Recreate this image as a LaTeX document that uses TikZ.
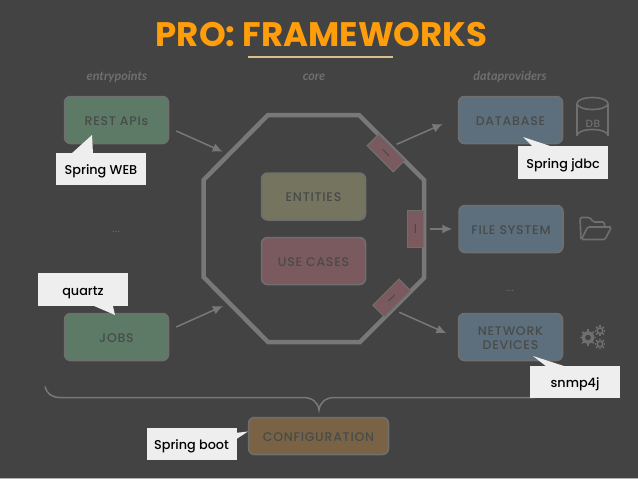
\documentclass[tikz,border=0pt]{standalone}
\usepackage{fontspec}
\setmainfont{Poppins}
\newfontfamily\boxfont[LetterSpace=6]{Poppins Medium}
\newfontfamily\notefont{Poppins Medium}
\newfontfamily\handfont{Lato}
\usetikzlibrary{arrows.meta}

\definecolor{slidebg}{HTML}{434343}
\definecolor{rimgray}{HTML}{6F6F6F}
\definecolor{linegray}{HTML}{787878}
\definecolor{boxtext}{HTML}{474B4A}
\definecolor{notefill}{HTML}{EEEEEE}
\definecolor{titleorange}{HTML}{FF9E0A}
\definecolor{rulesand}{HTML}{D8C08E}
\definecolor{entrygreen}{HTML}{5D7A66}
\definecolor{storeblue}{HTML}{5D6F7C}
\definecolor{coreolive}{HTML}{74745F}
\definecolor{corered}{HTML}{7A5A5E}
\definecolor{configbrown}{HTML}{7A6345}

\tikzset{
	layerbox/.style={draw=rimgray, line width=1.5pt, rounded corners=6pt, minimum width=104pt, minimum height=47pt, text=boxtext, align=center, font=\boxfont\fontsize{12.5}{14}\selectfont, inner sep=0pt, text height=10pt, text depth=0pt},
	portbox/.style={draw=rimgray, line width=1pt, fill=corered, minimum width=16.5pt, minimum height=37pt, text=boxtext, font=\fontsize{13}{14}\selectfont, inner sep=0pt},
	notebox/.style={fill=notefill, minimum width=90pt, minimum height=32.5pt, text=black, font=\notefont\fontsize{12.8}{15}\selectfont, inner sep=0pt, text height=11.5pt, text depth=0pt},
	layerlabel/.style={text=rimgray, font=\handfont\bfseries\itshape\fontsize{12.5}{14}\selectfont, inner sep=0pt},
	dotslabel/.style={text=rimgray, font=\boxfont\fontsize{9}{10}\selectfont, inner sep=0pt},
	flow/.style={draw=linegray, line width=1.5pt, -{Latex[length=10pt,width=9pt]}},
	iconline/.style={draw=rimgray, line width=1.6pt, line join=round}
}

\begin{document}
\begin{tikzpicture}[x=1pt, y=-1pt]
\useasboundingbox (0,0) rectangle (638,479);
\fill[slidebg] (0,0) rectangle (638,479);
\fill[gray!60] (0,478) rectangle (638,479);

\node[text=titleorange, font=\bfseries\fontsize{34}{38}\selectfont, inner sep=0pt] (title) at (321.5,35) {PRO: FRAMEWORKS};
\draw[rulesand, line width=1.3pt] (248,57) -- (393,57);

\node[layerlabel] (entrylabel) at (117,77) {entrypoints};
\node[layerlabel] (corelabel) at (314,77) {core};
\node[layerlabel] (storelabel) at (510,77) {dataproviders};

\draw[linegray, line width=4.5pt, line join=miter] (268,115) -- (359,115) -- (424,180) -- (424,278) -- (360,342) -- (268,342) -- (203.5,277) -- (203.5,180) -- cycle;

\node[portbox, rotate=45] (topport) at (386,153) {I};
\node[portbox] (fileport) at (415.5,228.5) {I};
\node[portbox, rotate=-45] (netport) at (391.7,298) {I};

\node[layerbox, fill=entrygreen] (restapis) at (116.5,120) {REST APIs};
\node[layerbox, fill=entrygreen] (jobs) at (116.5,337) {JOBS};
\node[layerbox, fill=coreolive] (entities) at (313.5,196.5) {ENTITIES};
\node[layerbox, fill=corered] (usecases) at (313.5,261) {USE CASES};
\node[layerbox, fill=storeblue] (database) at (510.5,120) {DATABASE};
\node[layerbox, fill=storeblue] (filesystem) at (511,229) {FILE SYSTEM};
\node[layerbox, fill=storeblue, text height=24pt] (network) at (510.5,337) {NETWORK\\DEVICES};
\node[layerbox, fill=configbrown, minimum width=140pt, minimum height=37pt] (config) at (318.5,436) {CONFIGURATION};

\node[dotslabel] (entrydots) at (116,232) {...};
\node[dotslabel] (storedots) at (510,291) {...};

\coordinate (restin) at (222.7,151.7);
\coordinate (jobsin) at (223,306);
\draw[flow] ([shift={(7,11)}]restapis.east) -- (restin);
\draw[flow] ([shift={(7,-10)}]jobs.east) -- (jobsin);
\draw[flow] ([shift={(10.7,-8.7)}]topport.center) -- ([shift={(-15,4)}]database.west);
\draw[flow] ([shift={(14.5,0.5)}]fileport.center) -- ([shift={(-6,0)}]filesystem.west);
\draw[flow] ([shift={(7.6,14.3)}]netport.center) -- ([shift={(-11.3,-3.7)}]network.west);

\coordinate (bracestart) at (45,386.5);
\coordinate (bracetip) at (319,410);
\draw[linegray, line width=1.5pt] (bracestart) .. controls (47,394) and (52,397.5) .. (60,397.5) -- (303,397.5) .. controls (312,397.5) and (318,402) .. (bracetip) .. controls (320,402) and (326,397.5) .. (335,397.5) -- (535,397.5);

\node[notebox] (webnote) at (101,169) {Spring WEB};
\node[notebox] (quartznote) at (83,289.5) {quartz};
\node[notebox] (jdbcnote) at (563,162.5) {Spring jdbc};
\node[notebox] (snmpnote) at (575,382) {snmp4j};
\node[notebox] (bootnote) at (191.5,444) {Spring boot};
\fill[notefill] (71,154) -- (92,135) -- (93,154) -- cycle;
\fill[notefill] (91.7,305) -- (115,315) -- (112.7,305) -- cycle;
\fill[notefill] (553,147) -- (523,137) -- (533,147) -- cycle;
\fill[notefill] (567,367) -- (533,356) -- (547,367) -- cycle;
\fill[notefill] (235,433) -- (248,431.5) -- (235,440) -- cycle;

\draw[iconline] (577,103.5) -- (577,135.5) arc[start angle=180, end angle=0, x radius=15.5, y radius=-6] -- (608,103.5);
\draw[iconline] (592.5,103.5) ellipse[x radius=15.5, y radius=6];
\node[text=rimgray, font=\boxfont\fontsize{10.5}{12}\selectfont, inner sep=0pt] (dbtag) at (593,124) {DB};

\draw[iconline, rounded corners=1.5pt] (581,239) -- (580,217.5) -- (590,217.5) -- (593,222) -- (604.5,222) -- (604.5,227);
\draw[iconline, rounded corners=1.5pt] (587.5,227) -- (611.5,227) -- (605,239.5) -- (581.5,239.5) -- cycle;

\foreach \gearx/\geary/\gearr/\gearw in {588/337.5/4.8/3.4, 600/330.7/2.8/1.5, 600/344/2.8/1.5} {
	\draw[rimgray, line width=\gearw pt] (\gearx,\geary) circle[radius=\gearr];
	\foreach \toothang in {0,45,...,315}
		\draw[rimgray, line width=1.7pt] (\gearx,\geary) ++(\toothang:\gearr+0.5*\gearw) -- ++(\toothang:1.8);
}
\end{tikzpicture}
\end{document}
